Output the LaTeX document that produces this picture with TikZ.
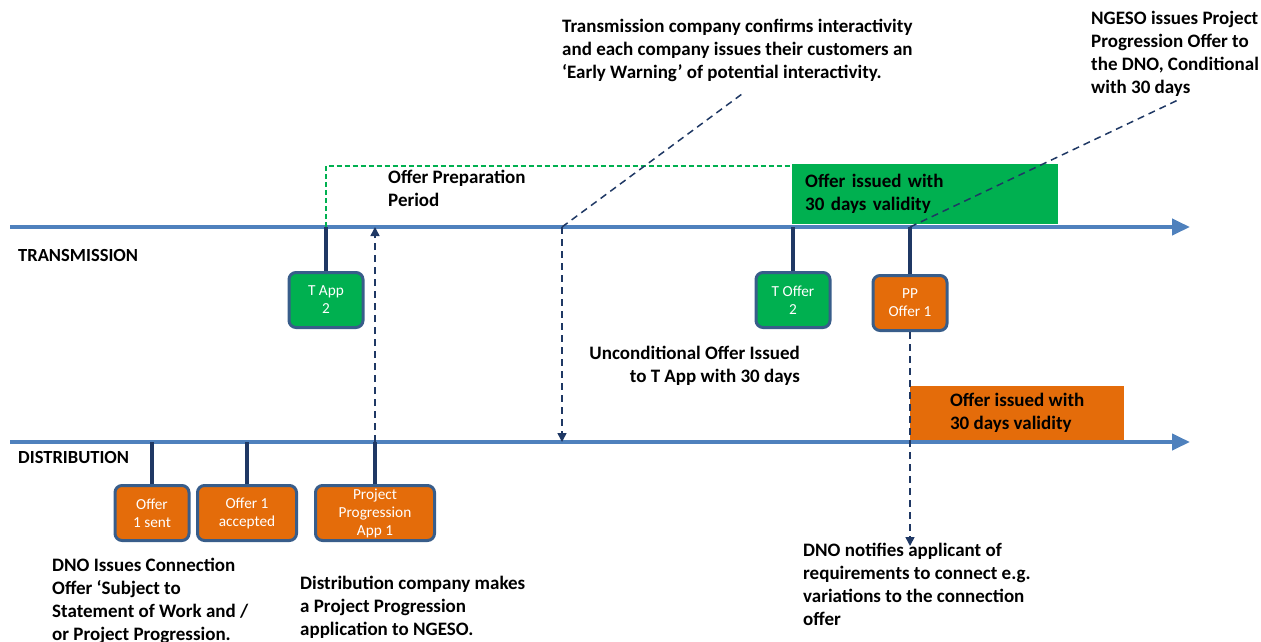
\documentclass[tikz,border=0pt]{standalone}
\usepackage{fontspec}
\setmainfont{Carlito}
\usetikzlibrary{arrows.meta}
\usetikzlibrary{positioning}
\definecolor{lineblue}{HTML}{4F81BD}
\definecolor{stemnavy}{HTML}{1F3864}
\definecolor{boxedge}{HTML}{385D8A}
\definecolor{tgreen}{HTML}{00B050}
\definecolor{dorange}{HTML}{E46C0A}
\tikzset{
    timeline/.style={draw=lineblue, line width=4pt,
        -{Triangle[length=18pt,width=16pt]}},
    stem/.style={draw=stemnavy, line width=3.5pt},
    event/.style={draw=boxedge, line width=3pt, rounded corners=7pt,
        text=white, align=center, minimum height=55pt, inner sep=2pt,
        font=\fontsize{15.3}{18}\selectfont},
    tevent/.style={event, fill=tgreen, minimum width=74pt},
    devent/.style={event, fill=dorange, minimum width=74pt},
    link/.style={draw=stemnavy, line width=1.5pt, dash pattern=on 7pt off 5pt},
    linkarrow/.style={link, -{Triangle[length=9pt,width=9pt]}},
    prep/.style={draw=tgreen, line width=2pt, dash pattern=on 5pt off 3pt},
    validity/.style={font=\fontsize{19}{23}\selectfont\bfseries, text=black},
    note/.style={font=\fontsize{19}{23}\selectfont\bfseries, align=left,
        anchor=north west, inner sep=0pt},
    lane/.style={font=\fontsize{18.5}{23}\selectfont\bfseries, anchor=west, inner sep=0pt}
}

\begin{document}
\begin{tikzpicture}[x=1pt, y=-1pt]
\useasboundingbox (0,0) rectangle (1261,641);
% time lines
\coordinate (tstart) at (10,227);
\coordinate (tend) at (1190,227);
\coordinate (dstart) at (10,442);
\coordinate (dend) at (1190,442);
\node[lane] (tlabel) at (18,255) {TRANSMISSION};
\node[lane] (dlabel) at (18,457) {DISTRIBUTION};

% validity bars
\node[validity, fill=tgreen, anchor=south west, text width=240pt,
    minimum height=60pt, inner xsep=13pt, align=left] (tvalid) at (792,224)
    {Offer issued with\\30 days validity};
\node[validity, fill=dorange, anchor=south west, minimum width=214pt,
    minimum height=55pt, align=left] (dvalid) at (910,441)
    {Offer issued with\\30 days validity};

\draw[timeline] (tstart) -- (tend);
\draw[timeline] (dstart) -- (dend);

% transmission events
\node[tevent] (tapp) at (326,300) {T App\\2};
\node[tevent] (toffer) at (793,300) {T Offer\\2};
\node[devent] (ppoffer) at (910,303) {PP\\Offer 1};
\draw[stem] (tapp.north |- tstart) -- (tapp.north);
\draw[stem] (toffer.north |- tstart) -- (toffer.north);
\draw[stem] (ppoffer.north |- tstart) -- (ppoffer.north);

% distribution events
\node[devent] (dsent) at (152,513) {Offer\\1 sent};
\node[devent, minimum width=99pt] (daccept) at (247,513) {Offer 1\\accepted};
\node[devent, minimum width=119pt] (ppapp) at (375,513) {Project\\Progression\\App 1};
\draw[stem] (dsent.north |- dstart) -- (dsent.north);
\draw[stem] (daccept.north |- dstart) -- (daccept.north);
\draw[stem] (ppapp.north |- dstart) -- (ppapp.north);

% offer preparation
\draw[prep] (tapp.north |- tstart) |- ([yshift=-2pt]tvalid.north west);
\node[note] (prepnote) at (388,170) {Offer Preparation\\Period};
\draw[linkarrow] (ppapp.north |- dstart) -- (ppapp.north |- tstart);

% early warning
\node[note] (warnnote) at (562,19)
    {Transmission company confirms interactivity\\and each company issues their customers an\\‘Early Warning’ of potential interactivity.};
\coordinate (warn) at (562,227);
\coordinate (warntip) at (742,94);
\draw[link] (warn) -- (warntip);
\draw[linkarrow] (warn) -- (warn |- dstart);
\node[note, align=right, anchor=north east] (uncond) at (800,346)
    {Unconditional Offer Issued\\to T App with 30 days};

% project progression offer
\node[note] (ngeso) at (1091,11)
    {NGESO issues Project\\Progression Offer to\\the DNO, Conditional\\with 30 days};
\coordinate (ngesotip) at (1178,100);
\draw[link] (ppoffer.north |- tstart) -- (ngesotip);
\node[note] (notify) at (803,543)
    {DNO notifies applicant of\\requirements  to connect e.g.\\variations to the connection\\offer};
\draw[linkarrow] (ppoffer.south) -- ([yshift=-3pt]ppoffer.south |- notify.north);

% distribution notes
\node[note] (dnonote) at (52,558)
    {DNO Issues Connection\\Offer ‘Subject to\\Statement of Work and /\\or Project Progression.};
\node[note] (ppnote) at (300,576)
    {Distribution company makes\\a Project Progression\\application to NGESO.};
\end{tikzpicture}
\end{document}
